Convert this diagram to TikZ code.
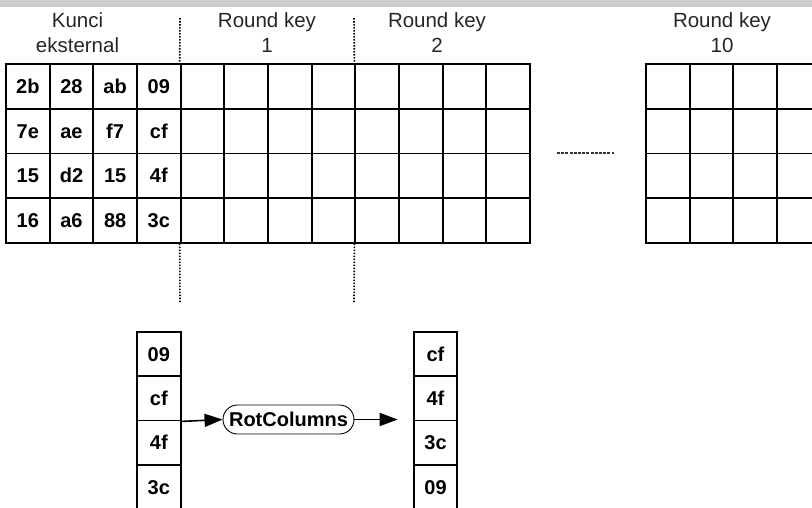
\documentclass[tikz,border=0pt]{standalone}
\usepackage{fontspec}
\setmainfont{Liberation Sans}
\usetikzlibrary{arrows.meta}
\begin{document}
\begin{tikzpicture}[x=1pt,y=-1pt,
  cell/.style={draw, line width=1.9pt, minimum width=43.7pt, minimum height=44.6pt,
    inner sep=0pt, anchor=north west, text height=14.3pt, text depth=0pt,
    font=\fontsize{20}{22}\bfseries\selectfont},
  vcell/.style={cell, minimum height=44.4pt},
  lbl/.style={anchor=base, inner sep=0pt, text=black!85, font=\fontsize{20.5}{24}\selectfont},
  dotline/.style={line width=1.6pt, dash pattern=on 1.6pt off 1.4pt},
  dashline/.style={line width=1.7pt, black!80, dash pattern=on 3pt off 1.2pt},
  rot/.style={draw, line width=0.9pt, rounded corners=14.5pt, minimum width=131pt,
    minimum height=29pt, inner sep=0pt, text height=14.3pt, text depth=0pt,
    font=\fontsize{20}{22}\bfseries\selectfont},
  arr/.style={line width=1.6pt, -{Triangle[length=18pt,width=13pt]}}
]
\useasboundingbox (0,0) rectangle (812,507);
\clip (0,0) rectangle (812,507);
\fill[black!20] (0,0) rectangle (812,7);

% labels
\node[lbl] (l0a) at (77.5,27) {Kunci};
\node[lbl] (l0b) at (77.5,52) {eksternal};
\node[lbl] (l1a) at (267,27) {Round key};
\node[lbl] (l1b) at (267,52) {1};
\node[lbl] (l2a) at (437,27) {Round key};
\node[lbl] (l2b) at (437,52) {2};
\node[lbl] (l3a) at (722,27) {Round key};
\node[lbl] (l3b) at (722,52) {10};

% main grid with key
\foreach \row [count=\r from 0] in {{2b,28,ab,09},{7e,ae,f7,cf},{15,d2,15,4f},{16,a6,88,3c}} {
  \foreach \v [count=\c from 0] in \row {
    \node[cell] (k-\r-\c) at ({5+43.67*\c},{63.3+44.6*\r}) {\v};
  }
}
\foreach \r in {0,...,3} {
  \foreach \c in {4,...,11} {
    \node[cell] (k-\r-\c) at ({5+43.67*\c},{63.3+44.6*\r}) {};
  }
  \foreach \c in {0,...,3} {
    \node[cell] (t-\r-\c) at ({645+43.7*\c},{63.3+44.6*\r}) {};
  }
}

% dotted separators
\coordinate (d1t) at (180,18);
\coordinate (d1b) at (180,302);
\coordinate (d2t) at (354,18);
\coordinate (d2b) at (354,302);
\draw[dotline] (d1t) -- (k-0-4.north west);
\draw[dotline] (k-3-4.south west) -- (d1b);
\draw[dotline] (d2t) -- (k-0-8.north west);
\draw[dotline] (k-3-8.south west) -- (d2b);

% dashed ellipsis
\coordinate (e1) at (557,152.7);
\coordinate (e2) at (614,152.7);
\draw[dashline] (e1) -- (e2);

% bottom columns
\foreach \v [count=\k from 0] in {09,cf,4f,3c} {
  \node[vcell] (L-\k) at (136,{330.7+44.4*\k}) {\v};
}
\foreach \v [count=\k from 0] in {cf,4f,3c,09} {
  \node[vcell] (R-\k) at (412.7,{330.7+44.4*\k}) {\v};
}

\node[rot] (rot) at (288.5,419.5) {RotColumns};
\draw[arr] (L-1.south east) -- (rot.west);
\draw[arr, shorten >=15pt] (rot.east) -- (rot.east -| R-1.south west);
\end{tikzpicture}
\end{document}
